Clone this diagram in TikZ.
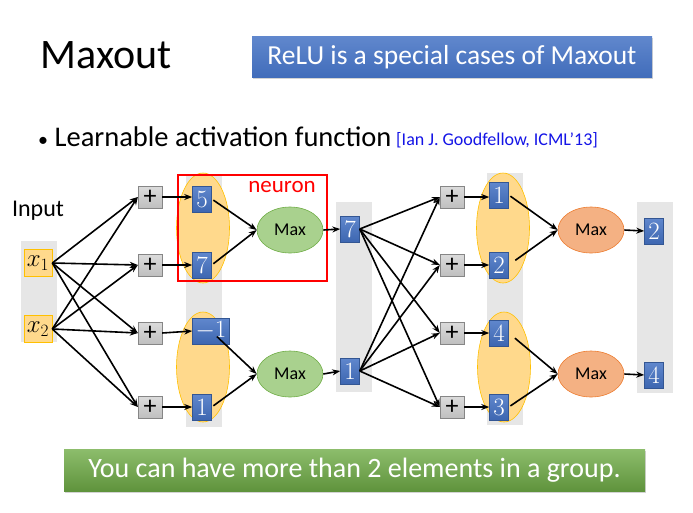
\documentclass[tikz,border=0pt]{standalone}
\usepackage[no-math]{fontspec}
\setmainfont{Carlito}
\usetikzlibrary{arrows.meta,shapes.geometric,shadows}
\definecolor{boxblue}{RGB}{68,114,196}
\definecolor{barg}{RGB}{230,230,230}
\definecolor{orfill}{RGB}{255,217,140}
\definecolor{orline}{RGB}{255,192,0}
\definecolor{plusg}{RGB}{191,191,191}
\definecolor{gfill}{RGB}{169,209,142}
\definecolor{gline}{RGB}{112,173,71}
\definecolor{ofill}{RGB}{244,177,131}
\definecolor{oline}{RGB}{237,125,49}
\definecolor{citeblue}{RGB}{20,20,230}
\begin{document}
\begin{tikzpicture}[x=1pt,y=-1pt,
  arr/.style={-{Stealth[length=8pt,width=6pt]}, line width=1.6pt},
  grp/.style={ellipse, fill=orfill, draw=orline, line width=0.6pt, minimum width=53pt, minimum height=110pt, inner sep=0pt},
  val/.style={top color=boxblue!85!white, bottom color=boxblue!90!black, draw=boxblue!75!black, line width=0.5pt, text=white, font=\fontsize{28}{28}\selectfont, minimum width=19pt, minimum height=26pt, inner sep=0pt},
  inp/.style={fill=orfill, draw=orline, line width=0.6pt, font=\fontsize{27}{27}\selectfont, minimum width=28pt, minimum height=27pt, inner sep=0pt},
  plusbox/.style={top color=plusg!55!white, bottom color=plusg, draw=plusg!70!black, line width=0.4pt, minimum width=24pt, minimum height=22pt, inner sep=0pt, font=\fontsize{26}{26}\selectfont},
  gmax/.style={ellipse, fill=gfill, draw=gline, line width=0.6pt, minimum width=66pt, minimum height=46pt, inner sep=0pt, font=\fontsize{18}{18}\selectfont},
  omax/.style={ellipse, fill=ofill, draw=oline, line width=0.6pt, minimum width=66pt, minimum height=46pt, inner sep=0pt, font=\fontsize{18}{18}\selectfont},
  banner/.style={text=white, inner sep=0pt, drop shadow={opacity=0.35, shadow xshift=1pt, shadow yshift=-1.5pt}}
  ]
\useasboundingbox (0,0) rectangle (693,512);
% title and header
\node (title) at (106,55) {\fontsize{42}{42}\selectfont Maxout};
\node[banner, top color=boxblue!85!white, bottom color=boxblue!95!black, minimum width=400pt, minimum height=41pt] (relu) at (452,57) {\fontsize{27.5}{27.5}\selectfont ReLU is a special cases of Maxout};
\node[anchor=west, inner sep=0pt] (bullet) at (38,137) {\fontsize{28.5}{28.5}\selectfont {\fontsize{20}{20}\selectfont\textbullet}\ Learnable activation function};
\node[anchor=west, inner sep=0pt, text=citeblue] (cite) at (396,140) {\fontsize{18}{18}\selectfont [Ian J. Goodfellow, ICML’13]};
% gray bars
\fill[barg] (21,241) rectangle (57,342);
\fill[barg] (186,175) rectangle (222,427);
\fill[barg] (336,202) rectangle (372,392);
\fill[barg] (487,173) rectangle (523,425);
\fill[barg] (637,202) rectangle (673,393);
% group ellipses
\node[grp] (g1) at (203,228) {};
\node[grp] (g2) at (203,367) {};
\node[grp] (g3) at (503,228) {};
\node[grp] (g4) at (504,367) {};
% input
\node (input) at (38,211) {\fontsize{24}{24}\selectfont Input};
\node[inp] (x1) at (38,263) {$x_1$};
\node[inp] (x2) at (38,329) {$x_2$};
% layer 1
\node[plusbox] (p1) at (150,197) {+};
\node[plusbox] (p2) at (150,265) {+};
\node[plusbox] (p3) at (150,333) {+};
\node[plusbox] (p4) at (150,407) {+};
\node[val] (v1) at (202,199) {$5$};
\node[val] (v2) at (202,265) {$7$};
\node[val, minimum width=37pt] (v3) at (211,331) {$-1$};
\node[val] (v4) at (202,407) {$1$};
\node[gmax] (m1) at (290,230) {Max};
\node[gmax] (m2) at (290,374) {Max};
\node[val] (h1) at (350,229) {$7$};
\node[val] (h2) at (350,371) {$1$};
% layer 2
\node[plusbox] (q1) at (452,197) {+};
\node[plusbox] (q2) at (452,265) {+};
\node[plusbox] (q3) at (452,333) {+};
\node[plusbox] (q4) at (452,407) {+};
\node[val] (w1) at (499,195) {$1$};
\node[val] (w2) at (499,265) {$2$};
\node[val] (w3) at (499,333) {$4$};
\node[val] (w4) at (499,407) {$3$};
\node[omax] (n1) at (591,230) {Max};
\node[omax] (n2) at (591,374) {Max};
\node[val] (o1) at (654,231) {$2$};
\node[val] (o2) at (654,375) {$4$};
% neuron box
\draw[red, line width=2pt] (178,175) rectangle (327,281);
\node[text=red] (neuron) at (282,187) {\fontsize{23}{23}\selectfont neuron};
% connections
\foreach \s in {x1,x2} \foreach \t in {p1,p2,p3,p4} \draw[arr] (\s.east) -- (\t.west);
\foreach \s in {h1,h2} \foreach \t in {q1,q2,q3,q4} \draw[arr] (\s.east) -- (\t.west);
\draw[arr] (p1.east) -- (p1.east -| v1.west);
\draw[arr] (p2.east) -- (v2.west);
\draw[arr] (p3.east) -- (v3.west);
\draw[arr] (p4.east) -- (v4.west);
\draw[arr] (q1.east) -- (q1.east -| w1.west);
\draw[arr] (q2.east) -- (w2.west);
\draw[arr] (q3.east) -- (w3.west);
\draw[arr] (q4.east) -- (w4.west);
\draw[arr, shorten <=2pt] (v1.east) -- (m1.west);
\draw[arr, shorten <=2pt] (v2.east) -- (m1.west);
\draw[arr, shorten <=8pt] (v3.center) -- (m2.west);
\draw[arr, shorten <=2pt] (v4.east) -- (m2.west);
\draw[arr] (m1.east) -- (h1.west);
\draw[arr] (m2.east) -- (h2.west);
\draw[arr, shorten <=2pt] (w1.east) -- (n1.west);
\draw[arr, shorten <=8pt] (w2.east) -- (n1.west);
\draw[arr, shorten <=8pt] (w3.east) -- (n2.west);
\draw[arr, shorten <=2pt] (w4.east) -- (n2.west);
\draw[arr] (n1.east) -- (o1.west);
\draw[arr] (n2.east) -- (o2.west);
% bottom banner
\node[banner, top color=gline!80!white, bottom color=gline!85!black, minimum width=581pt, minimum height=42pt] (note) at (354.5,470) {\fontsize{28}{28}\selectfont You can have more than 2 elements in a group.};
\end{tikzpicture}
\end{document}
